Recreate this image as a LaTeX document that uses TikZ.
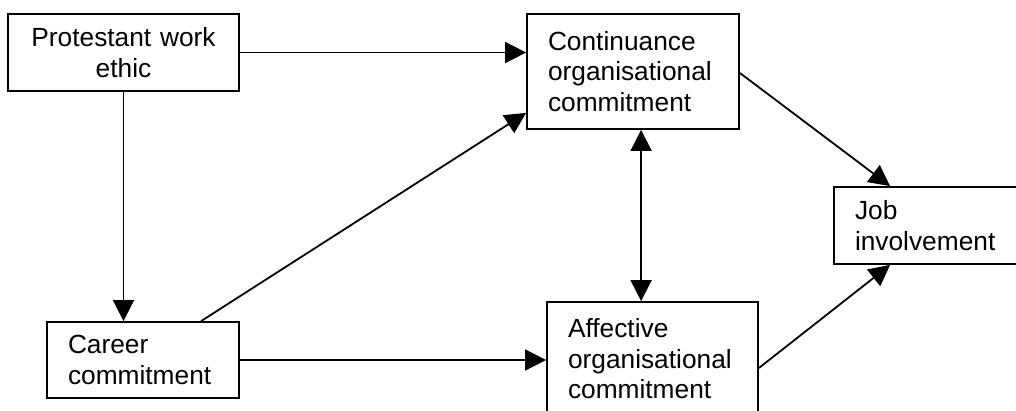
\documentclass[tikz,border=0pt]{standalone}
\usepackage{fontspec}
\setmainfont{Liberation Sans}
\usetikzlibrary{arrows.meta,calc}
\begin{document}
\begin{tikzpicture}[x=1pt,y=-1pt,
  box/.style={draw,line width=1.8pt,rectangle,inner ysep=0pt,font=\fontsize{26.3}{30.5}\selectfont},
  lbox/.style={box,inner xsep=21pt,align=left},
  cbox/.style={box,inner xsep=0pt,align=center},
  tip/.tip={Triangle[length=21pt,width=21pt]},
  conn/.style={line width=1.8pt,-tip},
  bconn/.style={line width=1.8pt,tip-tip}]
\useasboundingbox (0,0) rectangle (1016,410);
\node[cbox,minimum width=231pt,minimum height=77pt,text width=231pt] (pwe) at (123.5,52.5) {Protestant work\\ethic};
\node[lbox,minimum height=115pt,text width=170pt] (cont) at (633,71.5) {Continuance\\organisational\\commitment};
\node[lbox,minimum height=77pt,text width=188pt] (job) at (949,225.5) {Job\\involvement};
\node[lbox,minimum height=76pt,text width=150pt] (car) at (143,360) {Career\\commitment};
\node[lbox,minimum height=114pt,text width=169pt] (aff) at (652.5,359) {Affective\\organisational\\commitment};
\coordinate (cb) at ($(cont.south west)+(115,0)$);
\coordinate (ct) at ($(car.north west)+(155,0)$);
\coordinate (cl) at ($(cont.south west)+(0,-17)$);
\coordinate (ce) at ($(cont.east)+(0,1.5)$);
\coordinate (ae) at ($(aff.east)+(0,9)$);
\coordinate (jt) at ($(job.north west)+(57,0)$);
\coordinate (jb) at ($(job.south west)+(57,0)$);
\draw[conn] (pwe.east) -- (pwe.east -| cont.west);
\draw[conn] (pwe.south) -- (pwe.south |- car.north);
\draw[conn] (ct) -- (cl);
\draw[conn] (car.east) -- (car.east -| aff.west);
\draw[bconn] (cb) -- (cb |- aff.north);
\draw[conn] (ce) -- (jt);
\draw[conn] (ae) -- (jb);
\end{tikzpicture}
\end{document}
